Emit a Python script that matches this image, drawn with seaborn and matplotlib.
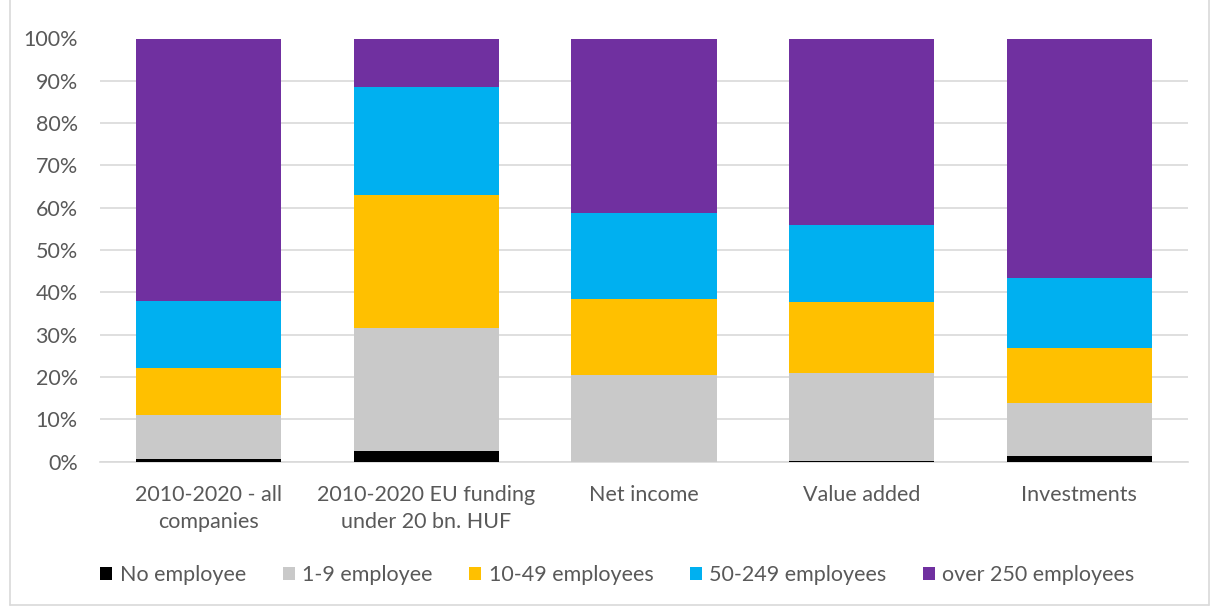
import matplotlib
matplotlib.use("Agg")
import matplotlib.pyplot as plt
from matplotlib.patches import Patch
from matplotlib.lines import Line2D
import seaborn as sns
import pandas as pd
import numpy as np

categories = ["2010-2020 - all\ncompanies", "2010-2020 EU funding\nunder 20 bn. HUF",
              "Net income", "Value added", "Investments"]
series_names = ["No employee", "1-9 employee", "10-49 employees",
                "50-249 employees", "over 250 employees"]
no_employee = [0.7, 2.5, 0.0, 0.2, 1.4]
emp_1_9 = [10.3, 29.0, 20.4, 20.7, 12.4]
emp_10_49 = [11.0, 31.5, 17.9, 16.8, 13.0]
emp_50_249 = [15.9, 25.5, 20.5, 18.1, 16.6]
emp_250_plus = [62.1, 11.5, 41.2, 44.2, 56.6]
y_ticks = [0, 10, 20, 30, 40, 50, 60, 70, 80, 90, 100]

colors = ["#000000", "#C9C9C9", "#FFC000", "#00B0F0", "#7030A0"]
text_color = "#595959"
font_size = 15.5

sns.set_theme(style="white")
plt.rcParams["font.family"] = ["Lato", "DejaVu Sans"]

fig = plt.figure(figsize=(12.11, 6.08), dpi=100)
ax = fig.add_axes([100 / 1211, 1 - 461.5 / 608, 1088 / 1211, 423 / 608])

layers = [no_employee, emp_1_9, emp_10_49, emp_50_249, emp_250_plus]
cum = np.cumsum(np.array(layers), axis=0)

# Stacked bars: draw cumulative totals from the top layer down so each
# lower segment covers the one above it.
for i in range(len(layers) - 1, -1, -1):
    df = pd.DataFrame({"category": categories, "value": cum[i]})
    sns.barplot(data=df, x="category", y="value", color=colors[i],
                saturation=1, width=0.667, linewidth=0, ax=ax, zorder=3)

ax.set_ylim(0, 100)
ax.set_xlim(-0.5, len(categories) - 0.5)
ax.set_yticks(y_ticks)
ax.set_yticklabels([f"{t}%" for t in y_ticks])
ax.yaxis.grid(True, color="#D9D9D9", linewidth=1.2, zorder=0)
ax.set_axisbelow(True)
for s in ["top", "right", "left"]:
    ax.spines[s].set_visible(False)
ax.spines["bottom"].set_color("#D9D9D9")
ax.spines["bottom"].set_linewidth(1.2)
ax.set_xlabel("")
ax.set_ylabel("")
ax.tick_params(axis="y", length=0, pad=16, labelsize=font_size, labelcolor=text_color)
ax.tick_params(axis="x", length=0, pad=17, labelsize=font_size, labelcolor=text_color)
for lbl in ax.get_xticklabels():
    lbl.set_linespacing(1.4)

handles = [Patch(facecolor=c, edgecolor="none") for c in colors]
fig.legend(handles, series_names, loc="center", bbox_to_anchor=(0.51, 1 - 575 / 608),
           ncol=5, frameon=False, fontsize=font_size, labelcolor=text_color,
           handlelength=0.55, handleheight=0.55, handletextpad=0.35, columnspacing=1.7)

# Chart area border
bx0, bx1, by = 10 / 1211, 1209 / 1211, 1 - 605 / 608
for xs, ys in [((bx0, bx0), (by, 1)), ((bx0, bx1), (by, by)), ((bx1, bx1), (by, 1))]:
    fig.add_artist(Line2D(xs, ys, color="#D9D9D9", linewidth=1.2))

fig.savefig("out.png", dpi=100)
